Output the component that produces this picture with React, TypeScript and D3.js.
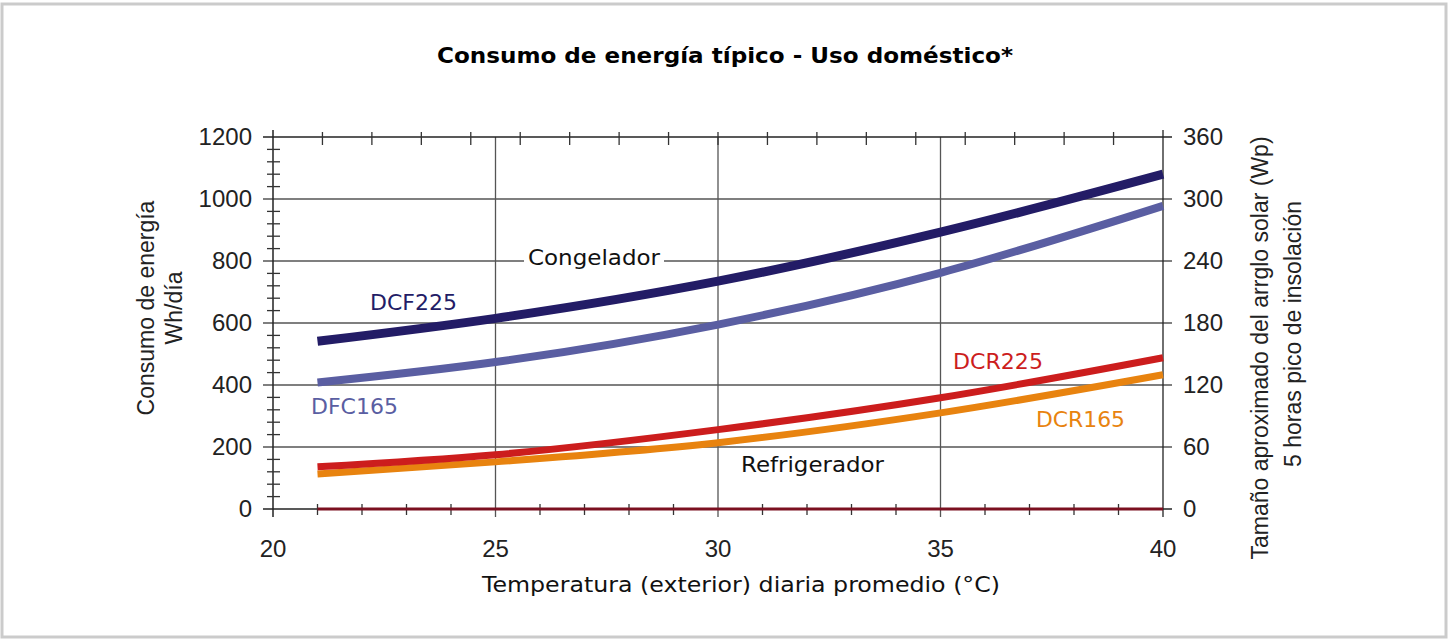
import React from 'react';
import * as d3 from 'd3';

// temperatura diaria promedio (°C)
const temps = [21, 25, 30, 35, 40];
// consumo Wh/día
const dcf225 = [541, 615, 735, 893, 1080];
const dfc165 = [408, 474, 595, 762, 978];
const dcr225 = [136, 175, 256, 359, 488];
const dcr165 = [113, 152, 214, 310, 433];
const baseLine = [0, 0, 0, 0, 0];

const xTicks = [20, 25, 30, 35, 40];
const yTicks = [0, 200, 400, 600, 800, 1000, 1200];
const wpTicks = [0, 60, 120, 180, 240, 300, 360];

const series = [
  { name: 'DCR165', values: dcr165, color: '#e8830f', width: 7 },
  { name: 'DCR225', values: dcr225, color: '#cc1d1d', width: 7 },
  { name: 'DFC165', values: dfc165, color: '#5a5ea2', width: 8 },
  { name: 'DCF225', values: dcf225, color: '#231c66', width: 9 },
];

const labels = [
  { text: 'DCF225', x: 370, y: 310, w: 87, color: '#231c66' },
  { text: 'DFC165', x: 311, y: 414, w: 87, color: '#5a5ea2' },
  { text: 'DCR225', x: 953, y: 369, w: 90, color: '#cc1d1d' },
  { text: 'DCR165', x: 1036, y: 427, w: 89, color: '#e8830f' },
  { text: 'Congelador', x: 528, y: 265, w: 132, color: '#111' },
  { text: 'Refrigerador', x: 741, y: 472, w: 143, color: '#111' },
];

export default function App() {
  const width = 1450;
  const height = 642;
  const left = 273, right = 1163, top = 137, bottom = 509;

  const x = d3.scaleLinear().domain([20, 40]).range([left, right]);
  const xF = d3.scaleLinear().domain([68, 104]).range([left, right]);
  const y = d3.scaleLinear().domain([0, 1200]).range([bottom, top]);
  const yWp = d3.scaleLinear().domain([0, 360]).range([bottom, top]);

  const line = d3.line<number>()
    .x((_, i) => x(temps[i]))
    .y(d => y(d))
    .curve(d3.curveMonotoneX);

  const minorX = d3.range(21, 40, 1).filter(t => t % 5 !== 0);
  const minorY = d3.range(40, 1200, 40).filter(t => t % 200 !== 0);
  const topTicks = d3.range(70, 104, 2);

  const tickFont = "'Liberation Sans', Arial, sans-serif";
  const verdana = "'DejaVu Sans', Verdana, sans-serif";

  return (
    <svg width={width} height={height} style={{ position: 'absolute', left: 0, top: 0, background: '#fff' }}>
      <rect x={2} y={4} width={1444} height={633} fill="#fff" stroke="#cbcbcb" strokeWidth={3} />

      <text x={725} y={63} textAnchor="middle" fontFamily={verdana} fontWeight="bold" fontSize={22}
        textLength={576} lengthAdjust="spacingAndGlyphs">
        Consumo de energía típico - Uso doméstico*
      </text>

      {/* grid */}
      {xTicks.slice(1, -1).map(t => (
        <line key={'gx' + t} x1={x(t)} x2={x(t)} y1={top} y2={bottom + 8} stroke="#555" strokeWidth={1.3} />
      ))}
      {yTicks.map(t => (
        <line key={'gy' + t} x1={left - 10} x2={right + 9} y1={y(t)} y2={y(t)}
          stroke={t === 0 || t === 1200 ? '#222' : '#555'} strokeWidth={1.3} />
      ))}

      {/* frame */}
      <line x1={left} x2={left} y1={top - 7} y2={bottom + 8} stroke="#222" strokeWidth={1.5} />
      <line x1={right} x2={right} y1={top - 7} y2={bottom + 8} stroke="#222" strokeWidth={1.3} />

      {minorX.map(t => (
        <line key={'mx' + t} x1={x(t)} x2={x(t)} y1={bottom - 5} y2={bottom + 6} stroke="#333" strokeWidth={1.3} />
      ))}
      {topTicks.map(t => (
        <line key={'tx' + t} x1={xF(t)} x2={xF(t)} y1={top - 5} y2={top + 8} stroke="#333" strokeWidth={1.3} />
      ))}
      {minorY.map(t => (
        <line key={'my' + t} x1={left - 6} x2={left + 7} y1={y(t)} y2={y(t)} stroke="#333" strokeWidth={1.3} />
      ))}

      {/* label backgrounds */}
      <rect x={524} y={247} width={140} height={24} fill="#fff" />

      {/* series */}
      <path d={line(baseLine) || ''} fill="none" stroke="#7b1020" strokeWidth={3} />
      {series.map(s => (
        <path key={s.name} d={line(s.values) || ''} fill="none" stroke={s.color} strokeWidth={s.width} />
      ))}

      {labels.map(l => (
        <text key={l.text} x={l.x} y={l.y} fill={l.color} fontFamily={verdana} fontSize={21}
          textLength={l.w} lengthAdjust="spacingAndGlyphs">{l.text}</text>
      ))}

      {/* tick labels */}
      {xTicks.map(t => (
        <text key={'lx' + t} x={x(t)} y={557} textAnchor="middle" fontFamily={tickFont} fontSize={24} fill="#222">{t}</text>
      ))}
      {yTicks.map(t => (
        <text key={'ly' + t} x={252} y={y(t)} dy="0.35em" textAnchor="end" fontFamily={tickFont} fontSize={24} fill="#222">{t}</text>
      ))}
      {wpTicks.map(t => (
        <text key={'lw' + t} x={1183} y={yWp(t)} dy="0.35em" textAnchor="start" fontFamily={tickFont} fontSize={24} fill="#222">{t}</text>
      ))}

      {/* axis titles */}
      <text x={482} y={592} fontFamily={verdana} fontSize={21} fill="#111"
        textLength={518} lengthAdjust="spacingAndGlyphs">
        Temperatura (exterior) diaria promedio (°C)
      </text>
      <text transform="translate(154,308) rotate(-90)" textAnchor="middle" fontFamily={tickFont} fontSize={23} fill="#222">
        Consumo de energía
      </text>
      <text transform="translate(182,308) rotate(-90)" textAnchor="middle" fontFamily={tickFont} fontSize={23} fill="#222">
        Wh/día
      </text>
      <text transform="translate(1268,348) rotate(-90)" textAnchor="middle" fontFamily={tickFont} fontSize={23} fill="#222">
        Tamaño aproximado del arrglo solar (Wp)
      </text>
      <text transform="translate(1301,334) rotate(-90)" textAnchor="middle" fontFamily={tickFont} fontSize={23} fill="#222">
        5 horas pico de insolación
      </text>
    </svg>
  );
}
